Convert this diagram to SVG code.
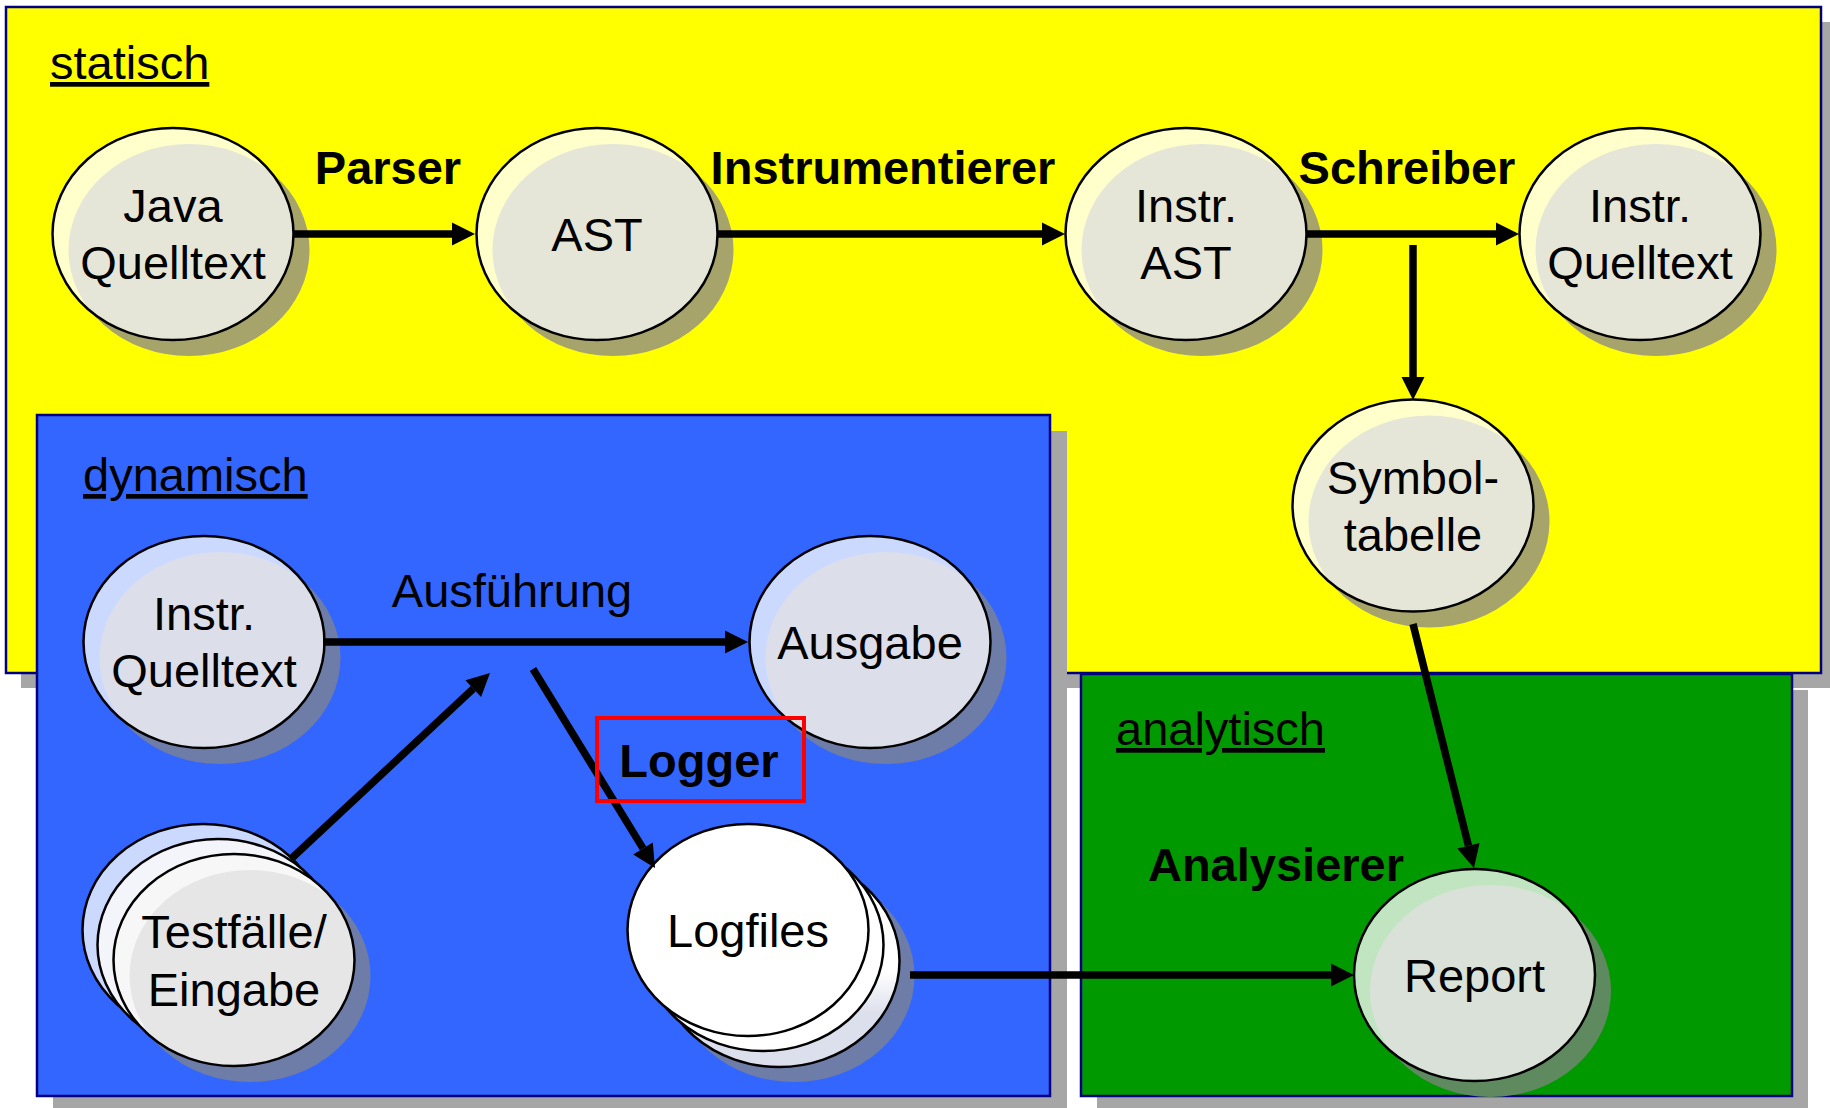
<svg xmlns="http://www.w3.org/2000/svg" width="1830" height="1108" viewBox="0 0 1830 1108">
<defs>
<style>
.txt{font-family:"Liberation Sans",Arial,sans-serif;font-size:47px;fill:#000}
.b{font-weight:bold}
.mid{text-anchor:middle}
.u{text-decoration:underline}
.pshadow{fill:#A6A6A6}
.panel{stroke:#000080;stroke-width:2.5}
.ol{fill:none;stroke:#000;stroke-width:2.5}
.shY{fill:#A6A46A}.hiY{fill:#FFFFCC}.inY{fill:#E6E6D8}
.shB{fill:#6E7CA8}.hiB{fill:#CCD9FF}.inB{fill:#DCDEEA}
.shG{fill:#5F8A5F}.hiG{fill:#C1E5C1}.inG{fill:#D9E1D9}
.conn{fill:none;stroke:#000;stroke-width:7.5}
</style>
<clipPath id="clipE"><ellipse cx="0" cy="0" rx="120.5" ry="106"/></clipPath>
<marker id="arr" markerUnits="userSpaceOnUse" markerWidth="24" markerHeight="24" viewBox="0 -12 24 24" refX="0" refY="0" orient="auto" overflow="visible">
<path d="M0,-11.5 L23,0 L0,11.5 Z" fill="#000"/>
</marker>
<linearGradient id="backLog" x1="0" y1="0" x2="0" y2="1">
<stop offset="0" stop-color="#FFFFFF"/>
<stop offset="0.55" stop-color="#FFFFFF"/>
<stop offset="0.75" stop-color="#DCDFEC"/>
<stop offset="1" stop-color="#DCDFEC"/>
</linearGradient>
</defs>

<g id="panel-statisch">
<rect class="pshadow" x="21" y="22" width="1815" height="666"/>
<rect class="panel" x="6" y="7" width="1815" height="666" fill="#FFFF00"/>
<text class="txt u" x="50" y="79">statisch</text>
</g>
<g id="panel-analytisch">
<rect class="pshadow" x="1097" y="690" width="711" height="418"/>
<rect class="panel" x="1081" y="674" width="711" height="422" fill="#009900"/>
<text class="txt u" x="1116" y="745">analytisch</text>
</g>
<g id="panel-dynamisch">
<rect class="pshadow" x="53" y="431" width="1014" height="677"/>
<rect class="panel" x="37" y="415" width="1013" height="681" fill="#3366FF"/>
<text class="txt u" x="83" y="491">dynamisch</text>
</g>

<g id="node-java" transform="translate(173,234)">
<ellipse class="shY" cx="16" cy="16" rx="120.5" ry="106"/>
<ellipse class="hiY" cx="0" cy="0" rx="120.5" ry="106"/>
<ellipse class="inY" cx="16" cy="16" rx="120.5" ry="106" clip-path="url(#clipE)"/>
<ellipse class="ol" cx="0" cy="0" rx="120.5" ry="106"/>
<text class="txt mid" x="0" y="-12">Java</text>
<text class="txt mid" x="0" y="45">Quelltext</text>
</g>
<g id="node-ast" transform="translate(597,234)">
<ellipse class="shY" cx="16" cy="16" rx="120.5" ry="106"/>
<ellipse class="hiY" cx="0" cy="0" rx="120.5" ry="106"/>
<ellipse class="inY" cx="16" cy="16" rx="120.5" ry="106" clip-path="url(#clipE)"/>
<ellipse class="ol" cx="0" cy="0" rx="120.5" ry="106"/>
<text class="txt mid" x="0" y="17">AST</text>
</g>
<g id="node-instr-ast" transform="translate(1186,234)">
<ellipse class="shY" cx="16" cy="16" rx="120.5" ry="106"/>
<ellipse class="hiY" cx="0" cy="0" rx="120.5" ry="106"/>
<ellipse class="inY" cx="16" cy="16" rx="120.5" ry="106" clip-path="url(#clipE)"/>
<ellipse class="ol" cx="0" cy="0" rx="120.5" ry="106"/>
<text class="txt mid" x="0" y="-12">Instr.</text>
<text class="txt mid" x="0" y="45">AST</text>
</g>
<g id="node-instr-quelltext-static" transform="translate(1640,234)">
<ellipse class="shY" cx="16" cy="16" rx="120.5" ry="106"/>
<ellipse class="hiY" cx="0" cy="0" rx="120.5" ry="106"/>
<ellipse class="inY" cx="16" cy="16" rx="120.5" ry="106" clip-path="url(#clipE)"/>
<ellipse class="ol" cx="0" cy="0" rx="120.5" ry="106"/>
<text class="txt mid" x="0" y="-12">Instr.</text>
<text class="txt mid" x="0" y="45">Quelltext</text>
</g>
<g id="node-symboltabelle" transform="translate(1413,505.5)">
<ellipse class="shY" cx="16" cy="16" rx="120.5" ry="106"/>
<ellipse class="hiY" cx="0" cy="0" rx="120.5" ry="106"/>
<ellipse class="inY" cx="16" cy="16" rx="120.5" ry="106" clip-path="url(#clipE)"/>
<ellipse class="ol" cx="0" cy="0" rx="120.5" ry="106"/>
<text class="txt mid" x="0" y="-12">Symbol-</text>
<text class="txt mid" x="0" y="45">tabelle</text>
</g>
<g id="node-instr-quelltext-dyn" transform="translate(204,642)">
<ellipse class="shB" cx="16" cy="16" rx="120.5" ry="106"/>
<ellipse class="hiB" cx="0" cy="0" rx="120.5" ry="106"/>
<ellipse class="inB" cx="16" cy="16" rx="120.5" ry="106" clip-path="url(#clipE)"/>
<ellipse class="ol" cx="0" cy="0" rx="120.5" ry="106"/>
<text class="txt mid" x="0" y="-12">Instr.</text>
<text class="txt mid" x="0" y="45">Quelltext</text>
</g>
<g id="node-ausgabe" transform="translate(870,642)">
<ellipse class="shB" cx="16" cy="16" rx="120.5" ry="106"/>
<ellipse class="hiB" cx="0" cy="0" rx="120.5" ry="106"/>
<ellipse class="inB" cx="16" cy="16" rx="120.5" ry="106" clip-path="url(#clipE)"/>
<ellipse class="ol" cx="0" cy="0" rx="120.5" ry="106"/>
<text class="txt mid" x="0" y="17">Ausgabe</text>
</g>
<g id="node-testfaelle" transform="translate(234,960)">
<ellipse class="shB" cx="16" cy="16" rx="120.5" ry="106"/>
<ellipse cx="-31" cy="-30" rx="120.5" ry="106" fill="#CCD9FF" stroke="#000" stroke-width="2.5"/>
<ellipse cx="-16" cy="-15" rx="120.5" ry="106" fill="#F3F5FA" stroke="#000" stroke-width="2.5"/>
<ellipse cx="0" cy="0" rx="120.5" ry="106" fill="#F7F7F7"/>
<ellipse cx="16" cy="16" rx="120.5" ry="106" fill="#E6E6E6" clip-path="url(#clipE)"/>
<ellipse class="ol" cx="0" cy="0" rx="120.5" ry="106"/>
<text class="txt mid" x="0" y="-12">Testfälle/</text>
<text class="txt mid" x="0" y="46">Eingabe</text>
</g>
<g id="node-logfiles" transform="translate(748,930)">
<ellipse class="shB" cx="46" cy="46" rx="120.5" ry="106"/>
<ellipse cx="31" cy="31" rx="120.5" ry="106" fill="url(#backLog)" stroke="#000" stroke-width="2.5"/>
<ellipse cx="15" cy="15" rx="120.5" ry="106" fill="#FFFFFF" stroke="#000" stroke-width="2.5"/>
<ellipse cx="0" cy="0" rx="120.5" ry="106" fill="#FFFFFF" stroke="#000" stroke-width="2.5"/>
<text class="txt mid" x="0" y="17">Logfiles</text>
</g>
<g id="node-report" transform="translate(1474.5,975)">
<ellipse class="shG" cx="16" cy="16" rx="120.5" ry="106"/>
<ellipse class="hiG" cx="0" cy="0" rx="120.5" ry="106"/>
<ellipse class="inG" cx="16" cy="16" rx="120.5" ry="106" clip-path="url(#clipE)"/>
<ellipse class="ol" cx="0" cy="0" rx="120.5" ry="106"/>
<text class="txt mid" x="0" y="17">Report</text>
</g>

<g id="connectors">
<path class="conn" d="M293,234 L452,234" marker-end="url(#arr)"/>
<path class="conn" d="M717,234 L1042,234" marker-end="url(#arr)"/>
<path class="conn" d="M1307,234 L1496,234" marker-end="url(#arr)"/>
<path class="conn" d="M1413,245 L1413,377" marker-end="url(#arr)"/>
<path class="conn" d="M1413,624 L1468.4,845.7" marker-end="url(#arr)"/>
<path class="conn" d="M323,642 L725,642" marker-end="url(#arr)"/>
<path class="conn" d="M292,858 L473.2,688.7" marker-end="url(#arr)"/>
<path class="conn" d="M533,669 L643,848.4" marker-end="url(#arr)"/>
<path class="conn" d="M910,975 L1331,975" marker-end="url(#arr)"/>
</g>

<g id="labels">
<text class="txt b mid" x="388" y="184">Parser</text>
<text class="txt b mid" x="883" y="184">Instrumentierer</text>
<text class="txt b mid" x="1407" y="184">Schreiber</text>
<text class="txt mid" x="512" y="607">Ausführung</text>
<rect x="597" y="718" width="207" height="83" fill="none" stroke="#FF0000" stroke-width="4"/>
<text class="txt b mid" x="699" y="777">Logger</text>
<text class="txt b mid" x="1276" y="881">Analysierer</text>
</g>
</svg>
